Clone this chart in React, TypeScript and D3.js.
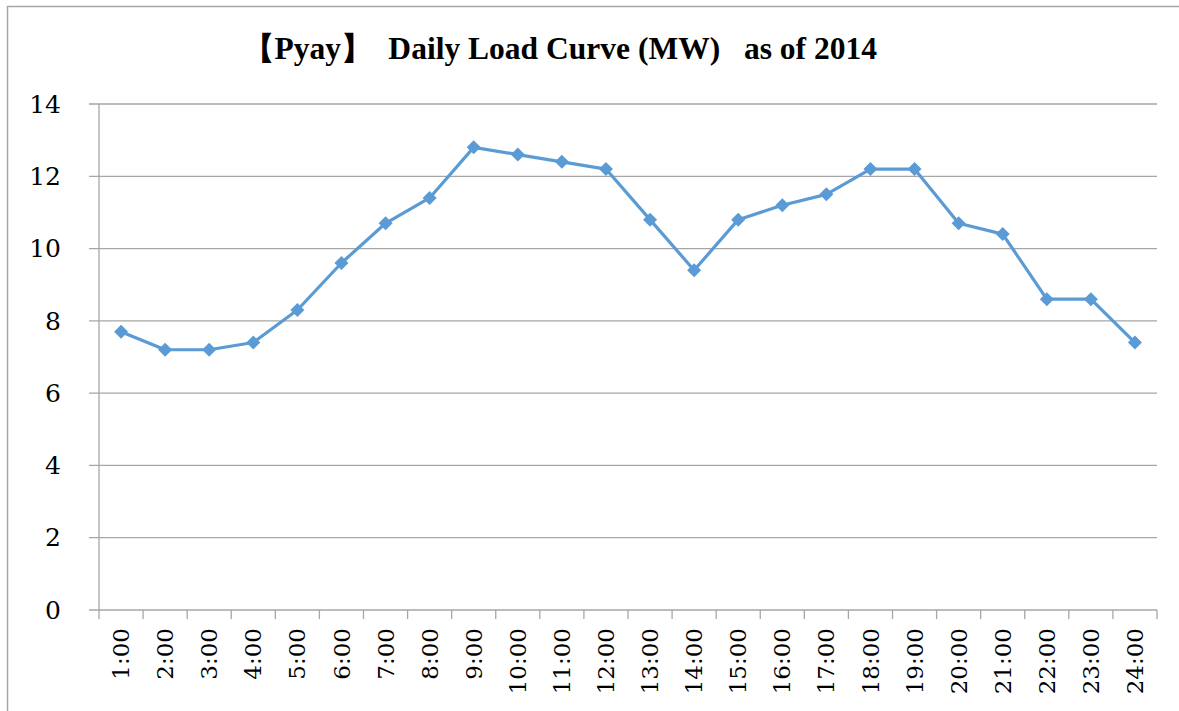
import React from 'react';
import * as d3 from 'd3';

// Pyay daily load curve

const hours = ['1:00', '2:00', '3:00', '4:00', '5:00', '6:00', '7:00', '8:00', '9:00', '10:00', '11:00', '12:00',
  '13:00', '14:00', '15:00', '16:00', '17:00', '18:00', '19:00', '20:00', '21:00', '22:00', '23:00', '24:00'];
const loadMW = [7.7, 7.2, 7.2, 7.4, 8.3, 9.6, 10.7, 11.4, 12.8, 12.6, 12.4, 12.2,
  10.8, 9.4, 10.8, 11.2, 11.5, 12.2, 12.2, 10.7, 10.4, 8.6, 8.6, 7.4];
const yTicks = [0, 2, 4, 6, 8, 10, 12, 14];
const title = '【Pyay】\u00a0\u00a0Daily Load Curve (MW)\u00a0\u00a0\u00a0as of 2014';

const left = 99, right = 1157, top = 104, bottom = 610;
const grey = '#a6a6a6';
const blue = '#5b9bd5';
const font = 'DejaVu Serif';

export default function App() {
  const x = d3.scaleBand().domain(hours).range([left, right]);
  const y = d3.scaleLinear().domain([0, 14]).range([bottom, top]);
  const cx = (h: string) => (x(h) as number) + x.bandwidth() / 2;
  const pts = hours.map((h, i) => [cx(h), y(loadMW[i])] as [number, number]);
  const edges = hours.map(h => x(h) as number).concat([right]);
  const diamond = d3.symbol().type(d3.symbolSquare).size(98)() as string;

  return (
    <svg width={1179} height={711} style={{ position: 'absolute', left: 0, top: 0 }}>
      <rect x={7.5} y={6.5} width={1185} height={720} fill="white" stroke={grey} strokeWidth={1.5} />

      {yTicks.map(t => (
        <line key={'g' + t} x1={left - 10} x2={right} y1={y(t)} y2={y(t)} stroke={grey} strokeWidth={1.3} />
      ))}
      {yTicks.map(t => (
        <text key={'l' + t} x={61} y={y(t)} dy="0.35em" textAnchor="end" fontFamily={font} fontSize={25}>{t}</text>
      ))}
      <line x1={left} x2={left} y1={top} y2={bottom} stroke={grey} strokeWidth={1.3} />

      {edges.map((e, i) => (
        <line key={'t' + i} x1={e} x2={e} y1={bottom} y2={bottom + 9} stroke={grey} strokeWidth={1.3} />
      ))}
      {hours.map(h => (
        <text key={'x' + h} transform={`translate(${cx(h)}, 628) rotate(-90)`} dy="0.35em" textAnchor="end"
          fontFamily={font} fontSize={23}>{h}</text>
      ))}

      <path d={d3.line()(pts) as string} fill="none" stroke={blue} strokeWidth={3.2} strokeLinejoin="round" />
      {pts.map((p, i) => (
        <path key={'m' + i} transform={`translate(${p[0]},${p[1]}) rotate(45)`} d={diamond} fill={blue} />
      ))}

      <text x={243} y={59} textLength={634} lengthAdjust="spacingAndGlyphs" fontFamily="Liberation Serif"
        fontWeight="bold" fontSize={31}>{title}</text>
    </svg>
  );
}
